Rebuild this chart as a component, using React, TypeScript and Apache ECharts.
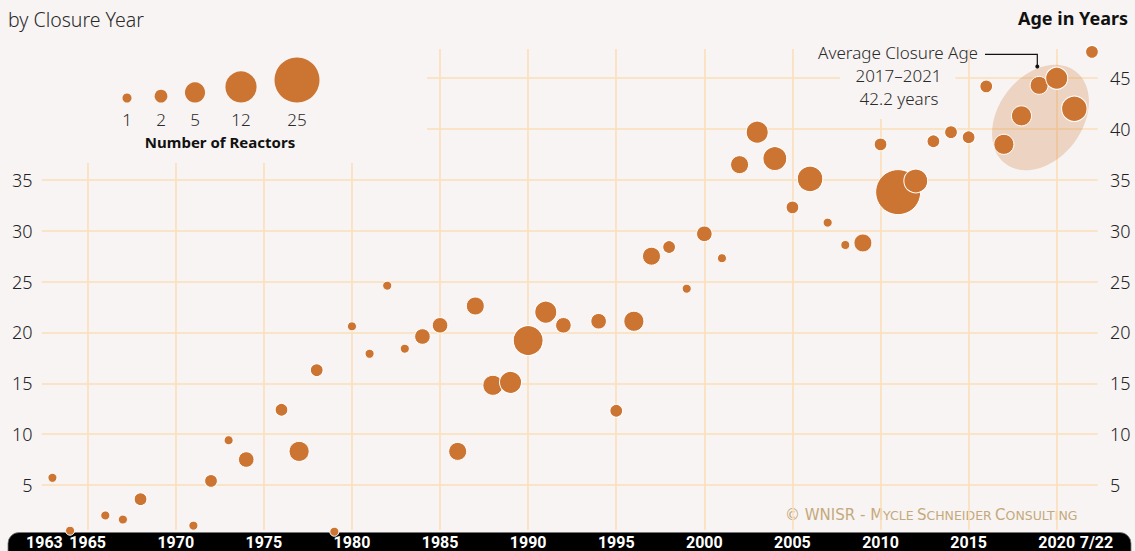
import React, { useEffect, useRef } from "react";
import * as echarts from "echarts";

// ---- data ----
const years = [1963,1964,1966,1967,1968,1971,1972,1973,1974,1976,1977,1978,1979,1980,1981,1982,1983,1984,1985,1986,1987,1988,1989,1990,1991,1992,1994,1995,1996,1997,1998,1999,2000,2001,2002,2003,2004,2005,2006,2007,2008,2009,2010,2011,2012,2013,2014,2015,2016,2017,2018,2019,2020,2021,2022];
const ages = [5.7,0.5,2.0,1.6,3.6,1.0,5.4,9.4,7.5,12.4,8.3,16.3,0.4,20.6,17.9,24.6,18.4,19.6,20.7,8.3,22.6,14.8,15.1,19.2,22.0,20.7,21.1,12.3,21.1,27.5,28.4,24.3,29.7,27.3,36.5,39.7,37.1,32.3,35.1,30.8,28.6,28.8,38.5,33.8,34.9,38.8,39.7,39.2,44.2,38.5,41.3,44.3,45.0,42.0,47.6];
const reactors = [1,1,1,1,2,1,2,1,3,2,5,2,1,1,1,1,1,3,3,4,4,5,6,11,6,3,3,2,5,4,2,1,3,1,4,6,7,2,8,1,1,4,2,25,7,2,2,2,2,5,5,4,6,8,2];

const xTickYears = [1963,1965,1970,1975,1980,1985,1990,1995,2000,2005,2010,2015,2020,2022];
const leftTicks = [5,10,15,20,25,30,35];
const rightTicks = [5,10,15,20,25,30,35,40,45];
const legendValues = [1,2,5,12,25];
const gridYears = [1965,1970,1975,1980,1985,1990,1995,2000,2005,2010,2015,2020];
const gridAges = [5,10,15,20,25,30,35,40,45];

// ---- style ----
const BG = "#f8f4f3";
const ORANGE = "#cc7431";
const GRID = "#fbdfb9";
const FONT = "'Noto Sans', sans-serif";
const sizeOf = (n: number) => 9 * Math.sqrt(n);

export default function App() {
  const ref = useRef<HTMLDivElement>(null);
  useEffect(() => {
    const chart = echarts.init(ref.current!, null, { renderer: "svg" });

    // gridline segments (layout extents in data units)
    const gl: any[] = [];
    gridYears.forEach((y) => {
      const top = y <= 1980 ? 36.67 : y === 2010 ? 41.0 : 47.88;
      gl.push({ coords: [[y, 0.57], [y, top]] });
    });
    gridAges.forEach((a) => {
      if (a <= 35) gl.push({ coords: [[1962.39, a], [2022.32, a]] });
      else if (a === 40) gl.push({ coords: [[1984.26, a], [2022.32, a]] });
      else {
        gl.push({ coords: [[1984.26, a], [2007.7, a]] });
        gl.push({ coords: [[2014.25, a], [2022.32, a]] });
      }
    });

    const legendX = [127, 161, 195, 241, 297];
    const legendBottom = 102.5;

    const graphic: any[] = [
      { type: "rect", z: -5, shape: { x: 8, y: 532.5, width: 1123, height: 30, r: 11 }, style: { fill: "#000", stroke: "#777", lineWidth: 0.8 } },
      { type: "text", left: 8, top: 9, style: { text: "by Closure Year", font: `300 19.5px ${FONT}`, fill: "#2a2a2a" } },
      { type: "text", right: 7, top: 9, style: { text: "Age in Years", font: `bold 18px ${FONT}`, fill: "#111" } },
      { type: "ellipse", z: 2, x: 1040.5, y: 117.5, rotation: (53 * Math.PI) / 180, shape: { cx: 0, cy: 0, rx: 58, ry: 42 }, style: { fill: "rgba(204,116,49,0.25)" } },
      { type: "text", x: 978, y: 52, style: { text: "Average Closure Age", font: `300 17px ${FONT}`, fill: "#2a2a2a", align: "right", verticalAlign: "middle" } },
      { type: "text", x: 898.5, y: 75.5, style: { text: "2017–2021", font: `300 17px ${FONT}`, fill: "#2a2a2a", align: "center", verticalAlign: "middle" } },
      { type: "text", x: 899, y: 98, style: { text: "42.2 years", font: `300 17px ${FONT}`, fill: "#2a2a2a", align: "center", verticalAlign: "middle" } },
      { type: "polyline", z: 5, shape: { points: [[985, 54.3], [1037.3, 54.3], [1037.3, 66.5]] }, style: { stroke: "#111", lineWidth: 1.2, fill: "none" } },
      { type: "circle", z: 5, shape: { cx: 1037.3, cy: 66.5, r: 2 }, style: { fill: "#111" } },
      {
        type: "text", x: 785, y: 515,
        style: {
          text: "{a|© WNISR - M}{b|YCLE} {a|S}{b|CHNEIDER} {a|C}{b|ONSULTING}",
          verticalAlign: "middle",
          rich: {
            a: { fontSize: 15, fontFamily: "'DejaVu Sans', sans-serif", fill: "#c4a97c", color: "#c4a97c" },
            b: { fontSize: 12.5, fontFamily: "'DejaVu Sans', sans-serif", fill: "#c4a97c", color: "#c4a97c" },
          },
        },
      },
      { type: "text", x: 220, y: 141.5, style: { text: "Number of Reactors", font: `bold 15px ${FONT}`, fill: "#111", align: "center", verticalAlign: "middle" } },
    ];
    legendValues.forEach((n, i) => {
      const r = sizeOf(n) / 2;
      graphic.push({ type: "circle", shape: { cx: legendX[i], cy: legendBottom - r, r }, style: { fill: ORANGE } });
      graphic.push({ type: "text", x: legendX[i], y: 119, style: { text: String(n), font: `300 17px ${FONT}`, fill: "#2a2a2a", align: "center", verticalAlign: "middle" } });
    });

    const option: any = {
      animation: false,
      backgroundColor: BG,
      grid: { left: 17.2, right: 7.8, top: 27.4, bottom: 15.2, containLabel: false },
      xAxis: {
        type: "value", min: 1961, max: 2024, z: 10,
        axisLine: { show: false }, axisTick: { show: false }, splitLine: { show: false },
        axisLabel: {
          customValues: xTickYears,
          margin: 7,
          verticalAlign: "middle",
          formatter: (v: number) => (v === 1963 ? "{l|1963}" : v === 2022 ? "{r|7/22}" : "{n|" + v + "}"),
          rich: {
            l: { color: "#fff", fontWeight: "bold", fontSize: 16, fontFamily: "Roboto", padding: [0, 16, 0, 0] },
            r: { color: "#fff", fontWeight: "bold", fontSize: 16, fontFamily: "Roboto", padding: [0, 0, 0, 9] },
            n: { color: "#fff", fontWeight: "bold", fontSize: 16, fontFamily: "Roboto" },
          },
        },
      },
      yAxis: [
        {
          type: "value", min: 0, max: 50, position: "left", offset: -15.3,
          axisLine: { show: false }, axisTick: { show: false }, splitLine: { show: false },
          axisLabel: { customValues: leftTicks, margin: 0, color: "#222", fontSize: 18, fontFamily: FONT, fontWeight: 300 },
        },
        {
          type: "value", min: 0, max: 50, position: "right", offset: -17.2,
          axisLine: { show: false }, axisTick: { show: false }, splitLine: { show: false },
          axisLabel: { customValues: rightTicks, margin: 0, color: "#222", fontSize: 18, fontFamily: FONT, fontWeight: 300 },
        },
      ],
      graphic,
      series: [
        {
          type: "lines", coordinateSystem: "cartesian2d", z: 1, silent: true,
          lineStyle: { color: GRID, width: 1.6, opacity: 1 },
          data: gl,
        },
        {
          type: "scatter", z: 3,
          data: years.map((y, i) => [y, ages[i], reactors[i]]),
          symbolSize: (v: number[]) => sizeOf(v[2]),
          itemStyle: { color: ORANGE, opacity: 1, borderColor: "#fff", borderWidth: 1 },
        },
      ],
    };
    chart.setOption(option);
    return () => chart.dispose();
  }, []);
  return <div ref={ref} style={{ position: "absolute", left: 0, top: 0, width: 1135, height: 551 }} />;
}
